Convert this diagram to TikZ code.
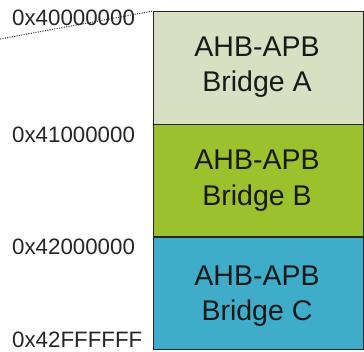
\documentclass[tikz,border=0pt]{standalone}
\usepackage{fontspec}
\setmainfont{Liberation Sans}
\begin{document}
\begin{tikzpicture}[x=1pt,y=-1pt,
  region/.style={draw=black!85,line width=1.2pt,minimum width=210pt,minimum height=112.7pt,inner sep=0pt,anchor=north west},
  regtext/.style={inner sep=0pt,font=\fontsize{28.5}{34}\selectfont,text=black!90,anchor=base},
  addr/.style={anchor=base west,inner sep=0pt,font=\fontsize{22.3}{22}\selectfont,text=black!85}]
\definecolor{bridgeA}{HTML}{D8DFC2}
\definecolor{bridgeB}{HTML}{9BC12C}
\definecolor{bridgeC}{HTML}{3FADC9}
\useasboundingbox (0,0) rectangle (364,351);
% memory map regions
\node[region,fill=bridgeA] (A) at (153,11) {};
\node[region,fill=bridgeB] (B) at (153,123.7) {};
\node[region,fill=bridgeC] (C) at (153,236.4) {};
% region names, two lines each
\node[regtext] (tA1) at (257,56) {AHB-APB};
\node[regtext] (tA2) at (257,91) {Bridge A};
\node[regtext] (tB1) at (257,169.5) {AHB-APB};
\node[regtext] (tB2) at (257,205) {Bridge B};
\node[regtext] (tC1) at (257,285) {AHB-APB};
\node[regtext] (tC2) at (257,320) {Bridge C};
% zoom line from the start address
\coordinate (zoomstart) at (0,39);
\draw[black!75,line width=1.1pt,dash pattern=on 1.1pt off 1.3pt] (zoomstart) -- (A.north west);
% address labels
\node[addr] (a0) at (12,25) {0x40000000};
\node[addr] (a1) at (12,142.5) {0x41000000};
\node[addr] (a2) at (12,254) {0x42000000};
\node[addr] (a3) at (12,347.5) {0x42FFFFFF};
\end{tikzpicture}
\end{document}
